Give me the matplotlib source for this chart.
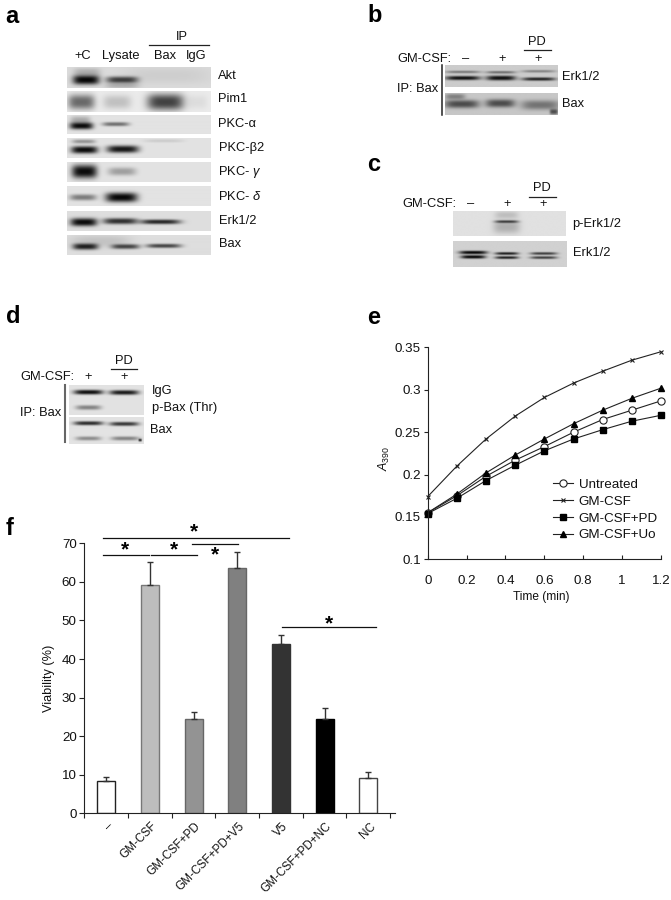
import numpy as np
import matplotlib
matplotlib.use("Agg")
import matplotlib.pyplot as plt

plt.rcParams['font.family'] = ['Liberation Sans', 'DejaVu Sans']
plt.rcParams['mathtext.fontset'] = 'custom'
plt.rcParams['mathtext.rm'] = 'Liberation Sans'
plt.rcParams['mathtext.it'] = 'Liberation Sans:italic'
plt.rcParams['mathtext.bf'] = 'Liberation Sans:bold'

W, H = 671, 900

# ---- chart e ----
time_min = [0, 0.15, 0.3, 0.45, 0.6, 0.75, 0.9, 1.05, 1.2]
untreated = [0.155, 0.175, 0.198, 0.217, 0.233, 0.250, 0.265, 0.276, 0.287]
gm_csf = [0.174, 0.210, 0.242, 0.269, 0.291, 0.308, 0.322, 0.335, 0.345]
gm_csf_pd = [0.154, 0.172, 0.193, 0.211, 0.228, 0.242, 0.253, 0.263, 0.270]
gm_csf_uo = [0.155, 0.177, 0.202, 0.223, 0.242, 0.260, 0.276, 0.290, 0.302]

# ---- chart f ----
bar_labels = ['–', 'GM-CSF', 'GM-CSF+PD', 'GM-CSF+PD+V5', 'V5', 'GM-CSF+PD+NC', 'NC']
viability = [8.4, 59.2, 24.5, 63.6, 44.0, 24.5, 9.1]
viability_err = [1.1, 6.0, 1.8, 4.2, 2.3, 2.9, 1.6]
bar_colors = ['white', '#bdbdbd', '#939393', '#808080', '#333333', '#000000', 'white']
bar_edges = ['#222222', '#777777', '#666666', '#666666', '#333333', '#000000', '#444444']
sig_lines = [(-0.08, 0.985, 67.0), (1.02, 2.08, 67.0), (-0.08, 4.18, 71.4), (1.96, 3.02, 69.7), (4.02, 6.18, 48.2)]
sig_stars = [(0.44, 68.3), (1.55, 68.2), (2.49, 67.0), (2.02, 72.85), (5.1, 49.1)]

# ---- blots: box (zoomed px x0,y0,x1,y1), background, bands (xc,yc,wx,wy,darkness) ----
blots_a = [
    ((200, 200, 632, 263), 0.86, [(257, 238, 40, 14, .97), (365, 238, 48, 10, .72), (260, 215, 40, 12, .2), (365, 255, 50, 8, .2), (500, 225, 130, 25, .06)]),
    ((200, 273, 632, 335), 0.92, [(243, 305, 40, 22, .55), (350, 305, 42, 20, .18), (495, 305, 55, 24, .72), (590, 305, 30, 20, .06)]),
    ((200, 347, 632, 402), 0.89, [(243, 378, 35, 10, .95), (240, 362, 30, 12, .25), (346, 373, 40, 6, .5)]),
    ((200, 415, 632, 475), 0.89, [(252, 450, 40, 11, .95), (367, 448, 48, 11, .9), (490, 423, 60, 5, .1), (250, 425, 35, 6, .35)]),
    ((200, 487, 632, 547), 0.89, [(252, 515, 38, 20, .95), (365, 515, 42, 12, .3)]),
    ((200, 559, 632, 618), 0.89, [(248, 592, 40, 9, .45), (363, 592, 48, 14, .97)]),
    ((200, 632, 632, 692), 0.87, [(250, 665, 40, 12, .95), (360, 662, 52, 9, .78), (480, 664, 60, 7, .82)]),
    ((200, 707, 632, 765), 0.87, [(255, 740, 38, 9, .85), (375, 740, 42, 7, .68), (490, 738, 52, 6, .68), (300, 725, 90, 18, .12)]),
]
blots_bc = [
    ((195, 197, 533, 262), 0.80, [(248, 235, 52, 6, .92), (362, 235, 44, 7, .92), (475, 238, 50, 5, .82), (248, 217, 52, 4, .4), (362, 218, 44, 4, .45), (475, 215, 50, 4, .35)]),
    ((195, 280, 533, 345), 0.78, [(245, 312, 52, 12, .62), (360, 310, 44, 12, .62), (480, 315, 58, 14, .42), (520, 335, 12, 8, .6), (225, 290, 30, 8, .35)]),
    ((220, 634, 558, 708), 0.88, [(380, 665, 35, 4, .7), (380, 680, 40, 20, .22), (380, 645, 35, 10, .15)]),
    ((220, 724, 560, 800), 0.82, [(280, 757, 42, 5, .97), (280, 770, 37, 5, .97), (380, 760, 35, 4, .85), (380, 772, 35, 4, .85), (490, 760, 40, 4, .7), (490, 772, 40, 4, .7)]),
]
blots_d = [
    ((207, 255, 432, 345), 0.89, [(265, 276, 44, 7, .93), (372, 277, 44, 7, .88), (265, 322, 38, 7, .42)]),
    ((207, 352, 432, 432), 0.89, [(265, 370, 44, 6, .8), (372, 372, 44, 6, .75), (265, 415, 38, 6, .38), (375, 415, 42, 6, .42), (420, 420, 5, 4, .8)]),
]

# ---- labels: (text, zoomed x, zoomed y, ha) ----
labels_a = [('+C', 248, 168, 'center'), ('Lysate', 362, 168, 'center'), ('Bax', 495, 168, 'center'), ('IgG', 590, 168, 'center'),
            ('IP', 545, 110, 'center'), ('Akt', 655, 228, 'left'), ('Pim1', 655, 298, 'left'), ('PKC-α', 655, 372, 'left'),
            ('PKC-β2', 657, 445, 'left'), (r'PKC- $\gamma$', 655, 517, 'left'), (r'PKC- $\delta$', 655, 588, 'left'),
            ('Erk1/2', 658, 662, 'left'), ('Bax', 657, 733, 'left')]
labels_bc = [('GM-CSF:', 52, 176, 'left'), ('–', 257, 176, 'center'), ('+', 366, 176, 'center'), ('+', 473, 176, 'center'),
             ('PD', 472, 125, 'center'), ('IP: Bax', 50, 267, 'left'), ('Erk1/2', 547, 232, 'left'), ('Bax', 547, 312, 'left'),
             ('GM-CSF:', 68, 613, 'left'), ('–', 272, 613, 'center'), ('+', 381, 613, 'center'), ('+', 488, 613, 'center'),
             ('PD', 486, 565, 'center'), ('p-Erk1/2', 577, 672, 'left'), ('Erk1/2', 580, 760, 'left')]
labels_d = [('GM-CSF:', 62, 230, 'left'), ('+', 265, 230, 'center'), ('+', 371, 230, 'center'), ('PD', 372, 183, 'center'),
            ('IP: Bax', 60, 338, 'left'), ('IgG', 455, 273, 'left'), ('p-Bax (Thr)', 455, 325, 'left'), ('Bax', 450, 390, 'left')]
panel_letters = [('a', 5, 23), ('b', 367, 22), ('c', 367, 171), ('d', 6, 323), ('e', 367, 324), ('f', 6, 535)]

fig = plt.figure(figsize=(W / 100, H / 100), dpi=100)
canvas = fig.add_axes([0, 0, 1, 1], zorder=0)
canvas.axis('off')


def draw_blot(box, bg, bands, ox, oy):
    x0, y0, x1, y1 = box
    xs = np.arange(x0, x1, 1.0)
    ys = np.arange(y0, y1, 1.0)
    X, Y = np.meshgrid(xs, ys)
    img = np.ones_like(X)
    for xc, yc, wx, wy, d in bands:
        img *= 1 - d * np.exp(-np.abs((X - xc) / wx) ** 4 - np.abs((Y - yc) / wy) ** 2.5)
    canvas.imshow(bg * img, cmap='gray', vmin=0, vmax=1, aspect='auto', interpolation='bilinear',
                  extent=(ox + x0 / 3, ox + x1 / 3, oy + y1 / 3, oy + y0 / 3))


def draw_labels(items, ox, oy):
    for s, x, y, ha in items:
        canvas.text(ox + x / 3, oy + y / 3, s, ha=ha, va='center', fontsize=9.3, color='#111111')


for b in blots_a:
    draw_blot(*b, 0, 0)
for b in blots_bc:
    draw_blot(*b, 380, 0)
for b in blots_d:
    draw_blot(*b, 0, 300)
draw_labels(labels_a, 0, 0)
draw_labels(labels_bc, 380, 0)
draw_labels(labels_d, 0, 300)

canvas.plot([447 / 3, 628 / 3], [136 / 3, 136 / 3], color='#222222', lw=0.9)
canvas.plot([380 + 432 / 3, 380 + 512 / 3], [151 / 3, 151 / 3], color='#222222', lw=0.9)
canvas.plot([380 + 448 / 3, 380 + 527 / 3], [590 / 3, 590 / 3], color='#222222', lw=0.9)
canvas.plot([332 / 3, 411 / 3], [300 + 208 / 3, 300 + 208 / 3], color='#222222', lw=0.9)
canvas.plot([380 + 185 / 3, 380 + 185 / 3], [195 / 3, 345 / 3], color='#222222', lw=1.1)
canvas.plot([195 / 3, 195 / 3], [300 + 255 / 3, 300 + 425 / 3], color='#666666', lw=1.5)
for s, x, y in panel_letters:
    canvas.text(x, y, s, fontsize=17, fontweight='bold', ha='left', va='baseline', color='black')
canvas.set_xlim(0, W)
canvas.set_ylim(H, 0)


def axes_px(x0, y0, x1, y1):
    return fig.add_axes([x0 / W, 1 - y1 / H, (x1 - x0) / W, (y1 - y0) / H], zorder=1, facecolor='none')


# ---- e ----
ax = axes_px(427.7, 347.5, 661, 559.3)
lc = '#222222'
kw = dict(color=lc, lw=0.8, clip_on=False)
ax.plot(time_min, untreated, marker='o', ms=5.2, mfc='white', mec='#222222', mew=0.8, label='Untreated', **kw)
ax.plot(time_min, gm_csf, marker='x', ms=3.4, mec='#222222', mew=0.8, label='GM-CSF', **kw)
ax.plot(time_min, gm_csf_pd, marker='s', ms=4.6, mfc='black', mec='black', label='GM-CSF+PD', **kw)
ax.plot(time_min, gm_csf_uo, marker='^', ms=4.6, mfc='black', mec='black', label='GM-CSF+Uo', **kw)
ax.set_xlim(0, 1.2)
ax.set_ylim(0.1, 0.35)
ax.set_xticks([0, 0.2, 0.4, 0.6, 0.8, 1, 1.2], ['0', '0.2', '0.4', '0.6', '0.8', '1', '1.2'])
ax.set_yticks([0.1, 0.15, 0.2, 0.25, 0.3, 0.35], ['0.1', '0.15', '0.2', '0.25', '0.3', '0.35'])
ax.tick_params(axis='x', direction='in', length=3, width=0.8, labelsize=9.6, pad=11, color='#222222', labelcolor='#111111')
ax.tick_params(axis='y', direction='out', length=3, width=0.8, labelsize=9.6, pad=2, color='#222222', labelcolor='#111111')
for s in ('top', 'right'):
    ax.spines[s].set_visible(False)
for s in ('left', 'bottom'):
    ax.spines[s].set_linewidth(0.8)
    ax.spines[s].set_color('#222222')
ax.set_xlabel('Time (min)', fontsize=8.6, labelpad=3, color='#111111', x=0.485)
ax.set_ylabel(r'$\mathit{A}_{390}$', fontsize=9, labelpad=2, color='#111111', y=0.475)
ax.legend(loc='lower left', bbox_to_anchor=(0.535, 0.085), frameon=False, fontsize=9.6, borderpad=0, borderaxespad=0,
          handlelength=1.5, handletextpad=0.45, labelspacing=0.33, labelcolor='#111111')

# ---- f ----
bx = axes_px(84.3, 543.3, 395, 813.3)
pos = np.arange(len(viability))
bx.bar(pos, viability, width=0.41, color=bar_colors, edgecolor=bar_edges, linewidth=1.0,
       yerr=[np.zeros(len(viability)), viability_err], error_kw=dict(ecolor='#333333', elinewidth=1.0, capsize=2.5, capthick=1.0))
bx.set_xlim(-0.5, 6.61)
bx.set_ylim(0, 70)
bx.set_yticks(range(0, 71, 10))
bx.set_xticks(np.arange(0, 8) - 0.5, minor=False, labels=[''] * 8)
bx.tick_params(axis='x', direction='out', length=3.5, width=0.8, color='#222222')
bx.tick_params(axis='y', direction='out', length=3.5, width=0.8, labelsize=9.6, pad=2, color='#222222', labelcolor='#111111')
for s in ('top', 'right'):
    bx.spines[s].set_visible(False)
for s in ('left', 'bottom'):
    bx.spines[s].set_linewidth(0.8)
    bx.spines[s].set_color('#222222')
bx.set_ylabel('Viability (%)', fontsize=9.2, labelpad=5, color='#111111')
tr = bx.get_xaxis_transform()
for i, s in enumerate(bar_labels):
    bx.annotate(s, xy=(i + 0.025, 0), xycoords=tr, xytext=(0, -5), textcoords='offset points', rotation=45,
                ha='right', va='top', rotation_mode='anchor', fontsize=8.5, color='#111111', annotation_clip=False)
for x1, x2, y in sig_lines:
    bx.plot([x1, x2], [y, y], color='#111111', lw=0.9, clip_on=False)
for x, y in sig_stars:
    bx.text(x, y, '*', fontsize=15, fontweight='bold', ha='center', va='center', color='black', clip_on=False)

fig.savefig('out.png', dpi=100)
